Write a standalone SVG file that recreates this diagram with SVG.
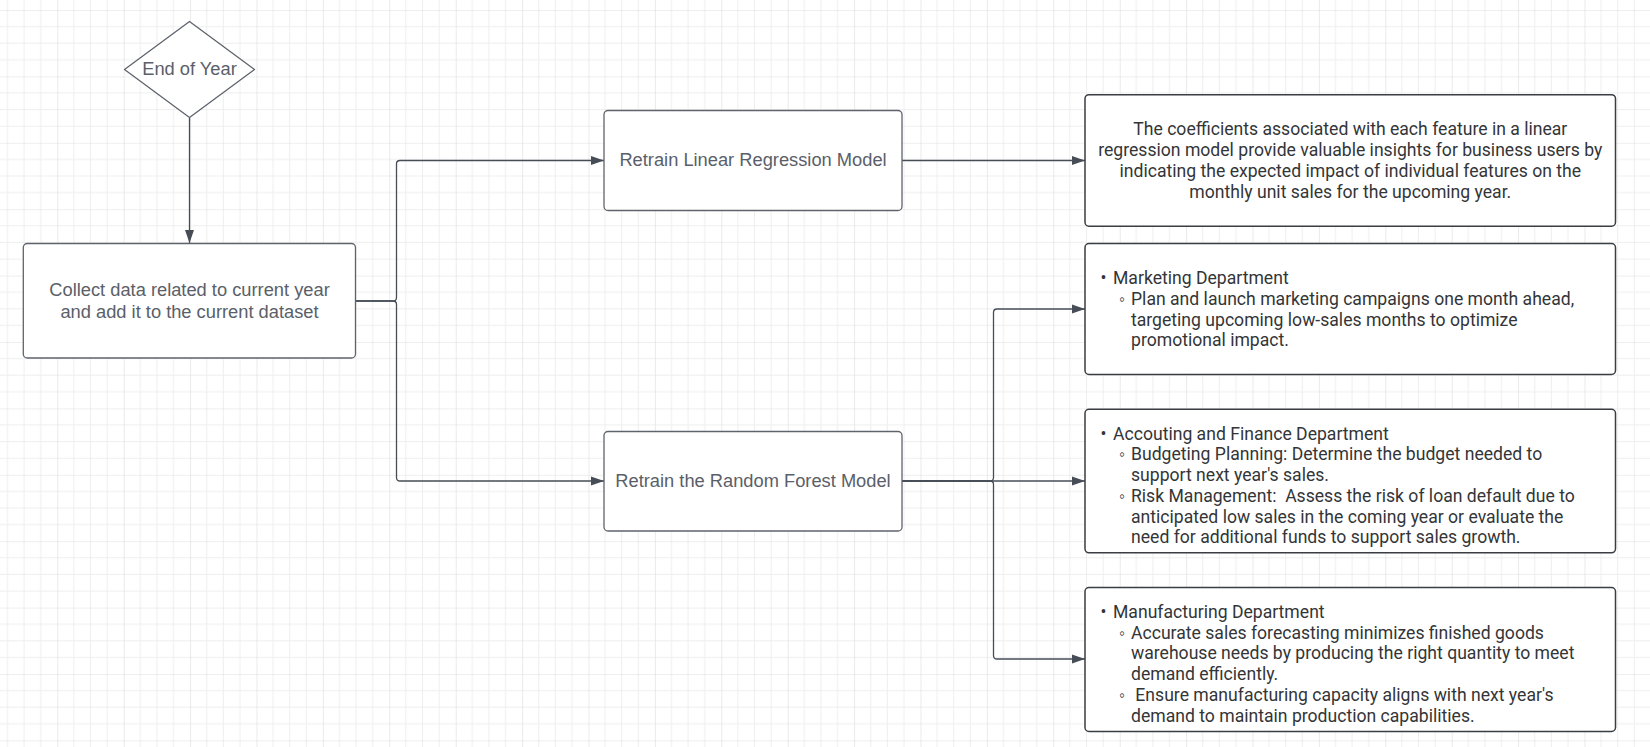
<svg xmlns="http://www.w3.org/2000/svg" width="1650" height="747" viewBox="0 0 1650 747">
<style>
.lbox{fill:#ffffff;stroke:#5f646c;stroke-width:1.3}
.rbox{fill:#ffffff;stroke:#3a3d42;stroke-width:1.5}
.ltxt{font-family:"Liberation Sans",Arial,sans-serif;font-size:18.3px;fill:#5a6069;text-anchor:middle}
.rtxt{font-family:Roboto,"Liberation Sans","DejaVu Sans",sans-serif;font-size:17.6px;fill:#333538;white-space:pre}
.ctr{text-anchor:middle}
.bul{text-anchor:middle}
.conn{fill:none;stroke:#474d57;stroke-width:1.3}
</style>
<defs>
<pattern id="grid" patternUnits="userSpaceOnUse" x="57.3" y="10" width="66.4" height="66.4">
<path d="M16.6,0V66.4M33.2,0V66.4M49.8,0V66.4M0,16.6H66.4M0,33.2H66.4M0,49.8H66.4" stroke="#eeeeee" stroke-width="1" fill="none"/>
<path d="M0,0V66.4M0,0H66.4" stroke="#dddddd" stroke-width="1.2" fill="none"/>
</pattern>
<marker id="ah" markerWidth="14" markerHeight="10" refX="13" refY="5" orient="auto" markerUnits="userSpaceOnUse">
<path d="M0,0.5 L13,5 L0,9.5 Z" fill="#474d57"/>
</marker>
</defs>
<rect x="0" y="0" width="1650" height="747" fill="#ffffff"/>
<rect x="0" y="0" width="1650" height="747" fill="url(#grid)"/>

<g id="connectors">
<path class="conn" d="M189.5,118 V243" marker-end="url(#ah)"/>
<path class="conn" d="M355.7,301 H393 Q396.5,301 396.5,297.5 V164 Q396.5,160.5 400,160.5 H604" marker-end="url(#ah)"/>
<path class="conn" d="M355.7,301 H393 Q396.5,301 396.5,304.5 V477.5 Q396.5,481 400,481 H604" marker-end="url(#ah)"/>
<path class="conn" d="M902,160.5 H1085" marker-end="url(#ah)"/>
<path class="conn" d="M902,481 H990 Q993.5,481 993.5,477.5 V312.5 Q993.5,309 997,309 H1085" marker-end="url(#ah)"/>
<path class="conn" d="M902,481 H1085" marker-end="url(#ah)"/>
<path class="conn" d="M902,481 H990 Q993.5,481 993.5,484.5 V655.5 Q993.5,659 997,659 H1085" marker-end="url(#ah)"/>
</g>

<g id="end-of-year">
<path class="lbox" stroke-linejoin="round" d="M189.5,21.5 L254.5,69.5 L189.5,117.5 L124.5,69.5 Z"/>
<text class="ltxt" x="189.5" y="74.5">End of Year</text>
</g>

<g id="collect-data">
<rect class="lbox" x="23.3" y="243.5" width="332.2" height="114.5" rx="4"/>
<text class="ltxt" x="189.5" y="296"><tspan x="189.5">Collect data related to current year</tspan><tspan x="189.5" y="317.5">and add it to the current dataset</tspan></text>
</g>

<g id="retrain-lr">
<rect class="lbox" x="604" y="110.5" width="298" height="100" rx="4"/>
<text class="ltxt" x="753" y="166">Retrain Linear Regression Model</text>
</g>

<g id="retrain-rf">
<rect class="lbox" x="604" y="431.5" width="298" height="99.5" rx="4"/>
<text class="ltxt" x="753" y="487">Retrain the Random Forest Model</text>
</g>

<g id="coefficients">
<rect class="rbox" x="1085" y="94.7" width="530.5" height="131.5" rx="4"/>
<text class="rtxt ctr"><tspan x="1350.3" y="135.4">The coefficients associated with each feature in a linear</tspan><tspan x="1350.3" y="156.2">regression model provide valuable insights for business users by</tspan><tspan x="1350.3" y="177">indicating the expected impact of individual features on the</tspan><tspan x="1350.3" y="197.8">monthly unit sales for the upcoming year.</tspan></text>
</g>

<g id="marketing">
<rect class="rbox" x="1085" y="243.5" width="530.5" height="131" rx="4"/>
<text class="rtxt bul" x="1103.5" y="284.2">•</text>
<text class="rtxt" x="1113" y="284.2">Marketing Department</text>
<text class="rtxt bul" x="1122" y="304.9">◦</text>
<text class="rtxt"><tspan x="1131" y="304.9">Plan and launch marketing campaigns one month ahead,</tspan><tspan x="1131" y="325.6">targeting upcoming low-sales months to optimize</tspan><tspan x="1131" y="346.3">promotional impact.</tspan></text>
</g>

<g id="accounting">
<rect class="rbox" x="1085" y="409.3" width="530.5" height="143.5" rx="4"/>
<text class="rtxt bul" x="1103.5" y="439.7">•</text>
<text class="rtxt" x="1113" y="439.7">Accouting and Finance Department</text>
<text class="rtxt bul" x="1122" y="460.4">◦</text>
<text class="rtxt"><tspan x="1131" y="460.4">Budgeting Planning: Determine the budget needed to</tspan><tspan x="1131" y="481.1">support next year's sales.</tspan></text>
<text class="rtxt bul" x="1122" y="501.8">◦</text>
<text class="rtxt"><tspan x="1131" y="501.8">Risk Management:  Assess the risk of loan default due to</tspan><tspan x="1131" y="522.5">anticipated low sales in the coming year or evaluate the</tspan><tspan x="1131" y="543.2">need for additional funds to support sales growth.</tspan></text>
</g>

<g id="manufacturing">
<rect class="rbox" x="1085" y="587.5" width="530.5" height="144" rx="4"/>
<text class="rtxt bul" x="1103.5" y="618">•</text>
<text class="rtxt" x="1113" y="618">Manufacturing Department</text>
<text class="rtxt bul" x="1122" y="638.7">◦</text>
<text class="rtxt"><tspan x="1131" y="638.7">Accurate sales forecasting minimizes finished goods</tspan><tspan x="1131" y="659.4">warehouse needs by producing the right quantity to meet</tspan><tspan x="1131" y="680.1">demand efficiently.</tspan></text>
<text class="rtxt bul" x="1122" y="700.8">◦</text>
<text class="rtxt"><tspan x="1131" y="700.8"> Ensure manufacturing capacity aligns with next year's</tspan><tspan x="1131" y="721.5">demand to maintain production capabilities.</tspan></text>
</g>
</svg>
